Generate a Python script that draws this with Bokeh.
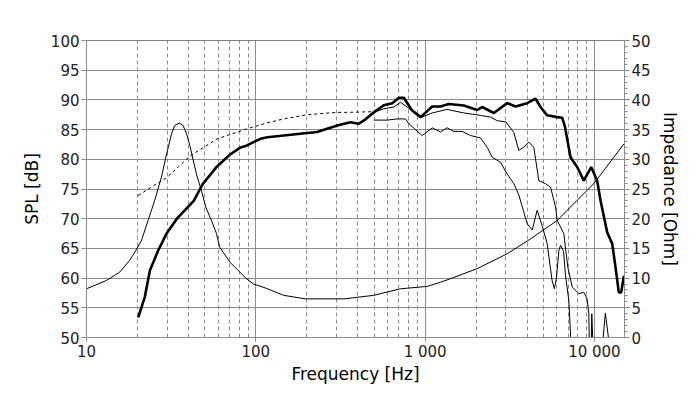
from bokeh.plotting import figure
from bokeh.models import Range1d, LinearAxis, FixedTicker, Span
from bokeh.embed import file_html
from bokeh.resources import INLINE

# ---------------- data ----------------
# Impedance curve (Ohm, right axis)
imp_freq = [10, 13.1, 15.7, 18.0, 19.8, 21.1, 23.1, 25.3, 27.7, 29.4, 30.4, 31.8, 33.2,
            35.3, 37.2, 39.0, 40.8, 44.6, 47.8, 50.7, 54.7, 58.6, 61.2, 70.2, 88, 97,
            115, 146, 197, 331, 498, 716, 1029, 1233, 1413, 2031, 3056, 4198, 6031,
            7911, 9927, 14940]
imp_ohm = [8.2, 9.6, 11.0, 13.0, 14.9, 16.3, 19.7, 23.1, 27.0, 30.3, 32.0, 34.3, 35.7,
           36.1, 35.7, 34.3, 32.3, 27.5, 24.7, 21.9, 19.7, 17.5, 15.2, 12.7, 9.9, 9.0,
           8.3, 7.1, 6.5, 6.5, 7.1, 8.2, 8.6, 9.3, 9.9, 11.6, 14.1, 16.6, 19.7,
           23.1, 25.9, 32.6]

# Simulated response (dashed)
sim_freq = [20.2, 30, 41.1, 59.2, 88, 115.7, 146, 201, 303, 345, 476, 500]
sim_spl = [73.9, 77.0, 80.6, 83.45, 85.1, 86.1, 86.8, 87.5, 87.9, 87.9, 88.0, 88.1]

# On-axis SPL (thick)
on_freq = [20.2, 22.1, 23.7, 26.5, 29.7, 34.2, 43, 48.5, 59, 70.5, 81.3, 88, 97, 106.6,
           117, 183, 230, 303, 362, 406, 434, 498, 570, 640, 700, 749, 839, 940, 1102,
           1233, 1381, 1693, 2031, 2173, 2547, 3056, 3421, 4010, 4489, 4808, 5260, 6031,
           6450, 6700, 7226, 7912, 8657, 9571, 10390, 10860, 11900, 12740, 13330, 13940,
           14400, 14940]
on_spl = [53.4, 56.8, 61.3, 64.65, 67.5, 70.0, 73.0, 75.8, 78.8, 80.8, 82.0, 82.3, 82.9,
          83.45, 83.7, 84.3, 84.6, 85.7, 86.25, 86.0, 86.5, 87.9, 89.1, 89.45, 90.35,
          90.35, 88.2, 87.1, 88.9, 88.9, 89.3, 89.05, 88.3, 88.8, 87.8, 89.45, 88.9,
          89.45, 90.2, 88.8, 87.4, 87.1, 87.0, 85.5, 80.35, 78.7, 76.4, 78.7, 76.4, 73.1,
          67.7, 65.8, 61.8, 57.6, 57.6, 60.4]

# Off-axis SPL 1 (thin, upper)
off1_freq = [498, 570, 653, 716, 783, 940, 1102, 1349, 1693, 2124, 2433, 2666, 3000,
             3344, 3577, 3811, 4098, 4388, 4697, 5144, 5508, 5895, 6031, 6596, 6970,
             7396, 8091, 8657, 9058, 9265, 9397, 9524, 9654, 9920, 10860, 11610, 12740,
             14940]
off1_spl = [87.9, 88.5, 88.8, 89.6, 88.8, 87.0, 87.8, 88.4, 87.8, 87.4, 87.1, 86.5, 86.3,
            84.5, 81.5, 82.0, 82.9, 82.0, 76.4, 75.9, 75.3, 72.0, 69.7, 67.5, 61.8,
            58.5, 57.4, 57.6, 56.5, 54.0, 45, 45, 54.0, 45, 45, 54.1, 45,
            45]

# Off-axis SPL 2 (thin, lower)
off2_freq = [498, 597, 684, 766, 801, 961, 1102, 1233, 1349, 1477, 1656, 1854, 2124,
             2329, 2490, 2788, 3056, 3344, 3577, 4010, 4292, 4590, 4918, 5260, 5623,
             5800, 5970, 6170, 6310, 6575, 6750, 7063, 7396]
off2_spl = [86.6, 86.6, 86.8, 86.8, 86.0, 84.0, 85.3, 84.6, 85.3, 84.7, 84.7, 84.0, 83.6,
            82.0, 80.35, 79.5, 77.5, 75.9, 74.0, 69.15, 68.1, 71.4, 68.8, 65.8, 59.6,
            58.2, 60.0, 64.65, 65.5, 64.5, 60.5, 56.2, 45]

x_major = [10, 100, 1000, 10000]
x_major_labels = ["10", "100", "1 000", "10 000"]
x_minor = [20, 30, 40, 50, 60, 70, 80, 90, 200, 300, 400, 500, 600, 700, 800, 900,
           2000, 3000, 4000, 5000, 6000, 7000, 8000, 9000]
spl_ticks = [50, 55, 60, 65, 70, 75, 80, 85, 90, 95, 100]
imp_ticks = [0, 5, 10, 15, 20, 25, 30, 35, 40, 45, 50]
imp_minor = list(range(0, 51))

# ---------------- figure ----------------
FONT = "DejaVu Sans"
GRID = "#8c8c8c"

p = figure(width=696, height=395, x_axis_type="log",
           x_range=Range1d(10, 15060), y_range=Range1d(50, 100),
           output_backend="svg", toolbar_location=None,
           min_border_left=86, min_border_right=72, min_border_top=40,
           min_border_bottom=58, outline_line_color=None)
p.extra_y_ranges = {"imp": Range1d(0, 50)}

# grids
p.xgrid.grid_line_color = GRID
p.xgrid.minor_grid_line_color = GRID
p.xgrid.minor_grid_line_dash = "4 3"
p.ygrid.grid_line_color = GRID

# bottom axis
xa = p.xaxis[0]
xa.ticker = FixedTicker(ticks=x_major, minor_ticks=x_minor)
xa.major_label_overrides = {t: l for t, l in zip(x_major, x_major_labels)}
xa.axis_label = "Frequency [Hz]"

# left axis
ya = p.yaxis[0]
ya.ticker = FixedTicker(ticks=spl_ticks)
ya.axis_label = "SPL [dB]"

# right axis
ra = LinearAxis(y_range_name="imp", axis_label="Impedance [Ohm]",
                ticker=FixedTicker(ticks=imp_ticks, minor_ticks=imp_minor))
p.add_layout(ra, "right")

for ax in (xa, ya, ra):
    ax.axis_line_color = GRID
    ax.major_tick_line_color = GRID
    ax.major_tick_in = 0
    ax.major_tick_out = 5
    ax.minor_tick_in = 0
    ax.major_label_text_font = FONT
    ax.major_label_text_font_size = "15px"
    ax.major_label_text_color = "#222222"
    ax.axis_label_text_font = FONT
    ax.axis_label_text_font_size = "17px"
    ax.axis_label_text_font_style = "normal"
    ax.axis_label_text_color = "#000000"
    ax.major_label_standoff = 2
    ax.axis_label_standoff = 6
xa.minor_tick_line_color = None
ya.minor_tick_line_color = None
ra.minor_tick_line_color = GRID
ra.minor_tick_out = 3
xa.major_tick_out = 4
xa.major_label_standoff = 1
xa.axis_label_standoff = 0

# top frame line
p.add_layout(Span(location=100, dimension="width", line_color="black", line_width=1))

# ---------------- curves ----------------
p.line(imp_freq, imp_ohm, y_range_name="imp", line_color="black", line_width=1)
p.line(sim_freq, sim_spl, line_color="black", line_width=1, line_dash="3 3")
p.line(off2_freq, off2_spl, line_color="black", line_width=1)
p.line(off1_freq, off1_spl, line_color="black", line_width=1)
p.line(on_freq, on_spl, line_color="black", line_width=2.6)

open("out.html", "w").write(file_html(p, INLINE))
